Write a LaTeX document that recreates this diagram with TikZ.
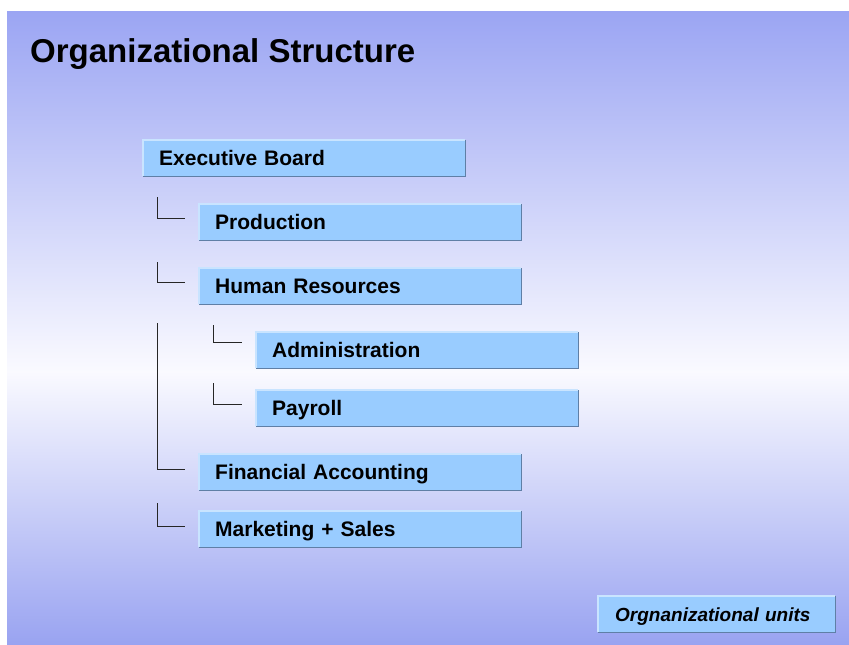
\documentclass[tikz,border=0pt]{standalone}
\usepackage{fontspec}
\setmainfont{Liberation Sans}
\begin{document}
\begin{tikzpicture}[x=1pt,y=-1pt,
  unit/.style={fill=boxfill, minimum height=36pt, inner xsep=16pt, inner ysep=0pt,
    text width=290pt, align=left, font=\fontsize{21}{24}\selectfont\bfseries,
    text height=15pt, text depth=0pt, anchor=north west},
  hilite/.style={draw=hiliteC, line width=1.2pt},
  shadowline/.style={draw=shadowC, line width=1.6pt},
  conn/.style={draw=black!85, line width=0.9pt}]
\definecolor{boxfill}{HTML}{99CCFF}
\definecolor{hiliteC}{HTML}{C9E4FF}
\definecolor{shadowC}{HTML}{5F7FA6}
\definecolor{bgtop}{HTML}{9BA5F3}
\definecolor{bgmid}{HTML}{FAFAFF}
\definecolor{bgbot}{HTML}{99A3F1}
\useasboundingbox (0,0) rectangle (849,645);
\fill[white] (0,0) rectangle (849,645);
\shade[top color=bgtop, bottom color=bgmid] (7,11) rectangle (849,372);
\shade[top color=bgmid, bottom color=bgbot] (7,371) rectangle (849,645);

\node[anchor=base west, font=\fontsize{33}{37}\selectfont\bfseries, inner sep=0pt] (title) at (30,62) {Organizational Structure};

\node[unit] (exec) at (143,140) {Executive Board};
\node[unit] (prod) at (199,204) {Production};
\node[unit] (hr) at (199,268) {Human Resources};
\node[unit] (admin) at (256,332) {Administration};
\node[unit] (pay) at (256,390) {Payroll};
\node[unit] (fin) at (199,454) {Financial Accounting};
\node[unit] (mkt) at (199,511) {Marketing + Sales};
\node[unit, text width=203pt, inner xsep=17pt, font=\fontsize{19}{22}\selectfont\bfseries\itshape, text height=14pt] (legend) at (598,596) {Orgnanizational units};

\foreach \n in {exec,prod,hr,admin,pay,fin,mkt,legend} {
  \draw[hilite] (\n.south west) -- (\n.north west) -- (\n.north east);
  \draw[shadowline] (\n.north east) -- (\n.south east) -- (\n.south west);
}

\coordinate (cprod) at (157,197);
\coordinate (chr) at (157,262);
\coordinate (cadmin) at (213,325);
\coordinate (cpay) at (213,383);
\coordinate (cfin) at (157,323);
\coordinate (cmkt) at (157,503);
\draw[conn] (cprod) |- ([xshift=-14pt,yshift=4pt]prod.west);
\draw[conn] (chr) |- ([xshift=-14pt,yshift=4pt]hr.west);
\draw[conn] (cadmin) |- ([xshift=-14pt,yshift=8pt]admin.west);
\draw[conn] (cpay) |- ([xshift=-14pt,yshift=4pt]pay.west);
\draw[conn] (cfin) |- ([xshift=-14pt,yshift=3pt]fin.west);
\draw[conn] (cmkt) |- ([xshift=-14pt,yshift=3pt]mkt.west);
\end{tikzpicture}
\end{document}
